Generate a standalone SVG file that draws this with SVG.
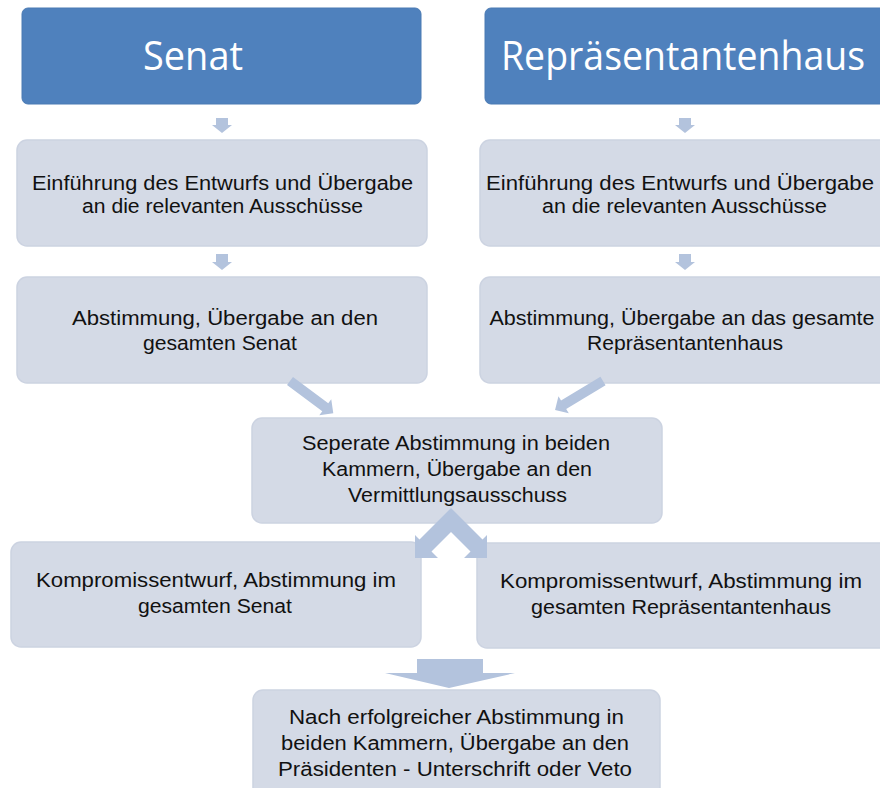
<svg xmlns="http://www.w3.org/2000/svg" width="880" height="788" viewBox="0 0 880 788">
<style>
.hdr{fill:#4F81BD;stroke:#4A7AB3;stroke-width:1}
.box{fill:#D4DAE6;stroke:#CCD3E1;stroke-width:1.5}
.ht{font-family:"Open Sans","Liberation Sans",sans-serif;font-size:40px;fill:#FFFFFF;text-anchor:middle}
.bt{font-family:"Liberation Sans",Arial,sans-serif;font-size:20px;fill:#111111;text-anchor:middle}
.arr{fill:#B3C3DD}
</style>
<rect width="880" height="788" fill="#FFFFFF"/>
<g id="senat">
<rect class="hdr" x="22" y="8" width="399" height="96" rx="6"/>
<text class="ht" x="193" y="70" textLength="100" lengthAdjust="spacingAndGlyphs">Senat</text>
</g>
<g id="repraesentantenhaus">
<rect class="hdr" x="485" y="8" width="420" height="96" rx="6"/>
<text class="ht" x="683" y="70" textLength="364" lengthAdjust="spacingAndGlyphs">Repräsentantenhaus</text>
</g>
<g id="senat-einfuehrung">
<rect class="box" x="17" y="140" width="410" height="106" rx="10"/>
<text class="bt" x="222.5" y="190" textLength="381" lengthAdjust="spacingAndGlyphs">Einführung des Entwurfs und Übergabe</text>
<text class="bt" x="222.5" y="213" textLength="281" lengthAdjust="spacingAndGlyphs">an die relevanten Ausschüsse</text>
</g>
<g id="haus-einfuehrung">
<rect class="box" x="480" y="140" width="420" height="106" rx="10"/>
<text class="bt" x="680" y="190" textLength="388" lengthAdjust="spacingAndGlyphs">Einführung des Entwurfs und Übergabe</text>
<text class="bt" x="684.5" y="213" textLength="285" lengthAdjust="spacingAndGlyphs">an die relevanten Ausschüsse</text>
</g>
<g id="senat-abstimmung">
<rect class="box" x="17" y="277" width="410" height="106" rx="10"/>
<text class="bt" x="225" y="325" textLength="306" lengthAdjust="spacingAndGlyphs">Abstimmung, Übergabe an den</text>
<text class="bt" x="220" y="350" textLength="154" lengthAdjust="spacingAndGlyphs">gesamten Senat</text>
</g>
<g id="haus-abstimmung">
<rect class="box" x="480" y="277" width="420" height="106" rx="10"/>
<text class="bt" x="682" y="325" textLength="385" lengthAdjust="spacingAndGlyphs">Abstimmung, Übergabe an das gesamte</text>
<text class="bt" x="685" y="350" textLength="196" lengthAdjust="spacingAndGlyphs">Repräsentantenhaus</text>
</g>
<g id="vermittlung">
<rect class="box" x="252" y="418" width="410" height="105" rx="10"/>
<text class="bt" x="456" y="450" textLength="308" lengthAdjust="spacingAndGlyphs">Seperate Abstimmung in beiden</text>
<text class="bt" x="457" y="476" textLength="270" lengthAdjust="spacingAndGlyphs">Kammern, Übergabe an den</text>
<text class="bt" x="457.5" y="502" textLength="219" lengthAdjust="spacingAndGlyphs">Vermittlungsausschuss</text>
</g>
<g id="senat-kompromiss">
<rect class="box" x="11" y="542" width="410" height="105" rx="10"/>
<text class="bt" x="216" y="587" textLength="360" lengthAdjust="spacingAndGlyphs">Kompromissentwurf, Abstimmung im</text>
<text class="bt" x="215" y="613" textLength="154" lengthAdjust="spacingAndGlyphs">gesamten Senat</text>
</g>
<g id="haus-kompromiss">
<rect class="box" x="477" y="543" width="420" height="105" rx="10"/>
<text class="bt" x="681" y="588" textLength="362" lengthAdjust="spacingAndGlyphs">Kompromissentwurf, Abstimmung im</text>
<text class="bt" x="681" y="614" textLength="300" lengthAdjust="spacingAndGlyphs">gesamten Repräsentantenhaus</text>
</g>
<g id="praesident">
<rect class="box" x="253" y="690" width="407" height="110" rx="10"/>
<text class="bt" x="456.5" y="724" textLength="335" lengthAdjust="spacingAndGlyphs">Nach erfolgreicher Abstimmung in</text>
<text class="bt" x="455" y="750" textLength="348" lengthAdjust="spacingAndGlyphs">beiden Kammern, Übergabe an den</text>
<text class="bt" x="455" y="776" textLength="354" lengthAdjust="spacingAndGlyphs">Präsidenten - Unterschrift oder Veto</text>
</g>
<g id="connectors">
<polygon class="arr" points="216,118 228,118 228,125 232,125 222,133 212,125 216,125"/>
<polygon class="arr" points="679,118 691,118 691,125 695,125 685,133 675,125 679,125"/>
<polygon class="arr" points="216,254 228,254 228,262 232,262 222,270 212,262 216,262"/>
<polygon class="arr" points="679,254 691,254 691,262 695,262 685,270 675,262 679,262"/>
<polygon class="arr" transform="translate(290,381) rotate(36.7)" points="0,-5 44,-5 44,-10 54,0 44,10 44,5 0,5"/>
<polygon class="arr" transform="translate(603,381) rotate(148.9)" points="0,-5 46,-5 46,-10 56,0 46,10 46,5 0,5"/>
<polygon class="arr" points="451,508 482.5,539.5 487,535 487,558 464,558 470.5,551.5 451,532 431.5,551.5 438,558 415,558 415,535 419.5,539.5"/>
<polygon class="arr" points="417,659 483,659 483,673 515,673 449,688 385,673 417,673"/>
</g>
</svg>
